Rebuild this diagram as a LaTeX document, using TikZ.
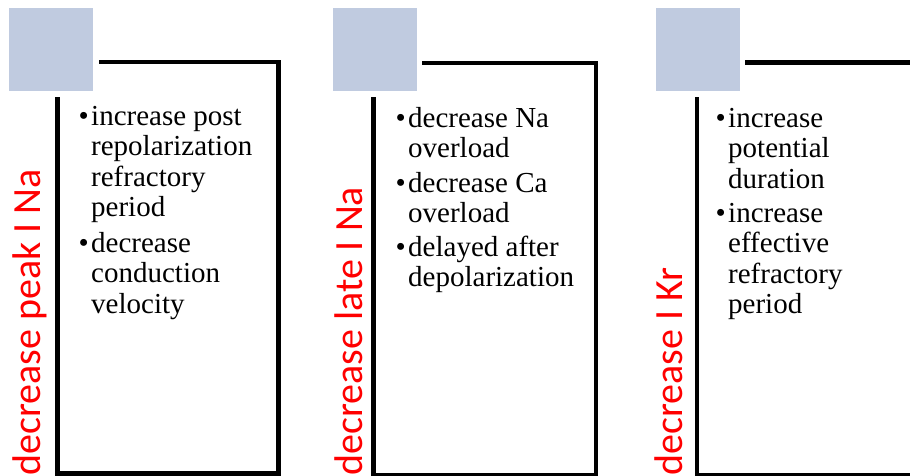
\documentclass[tikz,border=0pt]{standalone}
\usepackage{fontspec}
\setmainfont{Liberation Serif}
\newfontfamily\serifbody{Liberation Serif}
\newfontfamily\redfont{Carlito}
\definecolor{sqfill}{RGB}{192,203,224}
\begin{document}
\begin{tikzpicture}[x=1pt,y=-1pt,
  sqbox/.style={fill=sqfill, draw=none, minimum width=84pt, minimum height=83pt, inner sep=0pt, anchor=north west},
  frame/.style={line width=4.5pt, line join=miter, line cap=butt},
  lbl/.style={text=red, font=\redfont\fontsize{40}{41}\selectfont, rotate=90, anchor=base west, inner sep=0pt},
  itemline/.style={font=\serifbody\fontsize{29}{30.5}\selectfont, anchor=base west, inner sep=0pt},
  bulletmark/.style={font=\serifbody\fontsize{29}{30.5}\selectfont, anchor=base east, inner sep=0pt}]
\useasboundingbox (0,0) rectangle (910,475);

% squares
\node[sqbox] (sq1) at (9,8) {};
\node[sqbox] (sq2) at (333,8) {};
\node[sqbox] (sq3) at (656,8) {};

% frames
\draw[frame] (99,62) -- (278.5,62) -- (278.5,473.5) -- (57.5,473.5) -- (57.5,97);
\draw[frame] (422,63) -- (596,63) -- (596,475) -- (373.5,475) -- (373.5,97);
\draw[frame] (745,62.5) -- (930,62.5) -- (930,475) -- (697,475) -- (697,97);

% red labels
\node[lbl] (l1) at (40.5,476) {decrease peak I Na};
\node[lbl] (l2) at (362.5,476) {decrease late I Na};
\node[lbl] (l3) at (682.5,476) {decrease I Kr};

% panel 1 text
\node[bulletmark] (b11) at (89,125) {•};
\node[itemline] (t11) at (91,125) {increase post};
\node[itemline] (t12) at (91,155.5) {repolarization};
\node[itemline] (t13) at (91,186) {refractory};
\node[itemline] (t14) at (91,216.5) {period};
\node[bulletmark] (b12) at (89,252) {•};
\node[itemline] (t15) at (91,252) {decrease};
\node[itemline] (t16) at (91,282.5) {conduction};
\node[itemline] (t17) at (91,313) {velocity};

% panel 2 text
\node[bulletmark] (b21) at (406,127) {•};
\node[itemline] (t21) at (408,127) {decrease Na};
\node[itemline] (t22) at (408,157.5) {overload};
\node[bulletmark] (b22) at (406,192) {•};
\node[itemline] (t23) at (408,192) {decrease Ca};
\node[itemline] (t24) at (408,222.5) {overload};
\node[bulletmark] (b23) at (406,256) {•};
\node[itemline] (t25) at (408,256) {delayed after};
\node[itemline] (t26) at (408,286.5) {depolarization};

% panel 3 text
\node[bulletmark] (b31) at (726,127) {•};
\node[itemline] (t31) at (728,127) {increase};
\node[itemline] (t32) at (728,157.5) {potential};
\node[itemline] (t33) at (728,188) {duration};
\node[bulletmark] (b32) at (726,222) {•};
\node[itemline] (t34) at (728,222) {increase};
\node[itemline] (t35) at (728,252.5) {effective};
\node[itemline] (t36) at (728,283) {refractory};
\node[itemline] (t37) at (728,313.5) {period};
\end{tikzpicture}
\end{document}
